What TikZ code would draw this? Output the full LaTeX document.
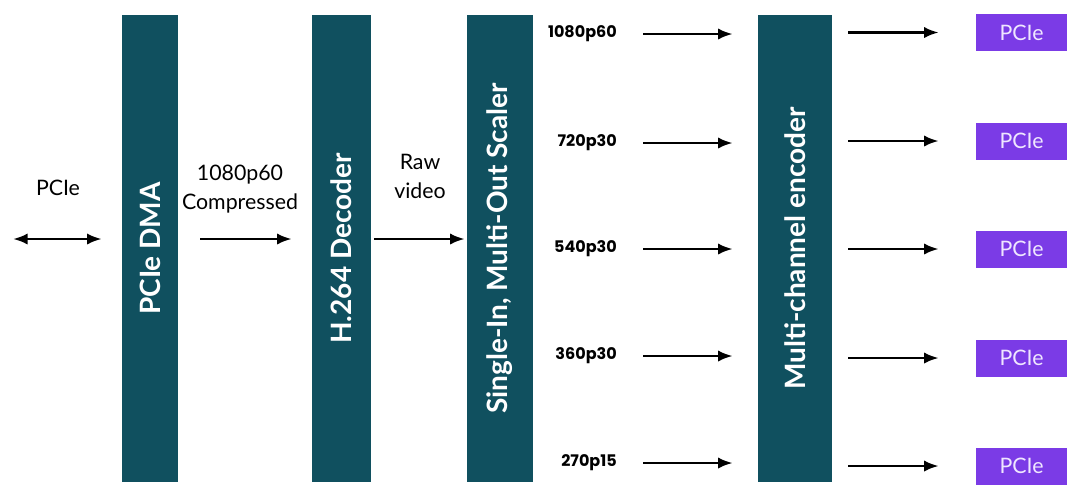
\documentclass[tikz,border=0pt]{standalone}
\usepackage{fontspec}
\setmainfont{Lato}
\newfontfamily\resfont{Poppins}
\usetikzlibrary{arrows.meta}
\definecolor{barteal}{HTML}{10505F}
\definecolor{pciepurple}{HTML}{7B3BE6}
\definecolor{lavender}{HTML}{EFE6FF}

\tikzset{
  bar/.style={fill=barteal, text=white, inner sep=0pt, minimum height=350.25pt,
    font=\fontsize{21}{25}\selectfont\bfseries},
  lbl/.style={font=\fontsize{16}{21.75}\selectfont, align=center},
  res/.style={font=\resfont\bfseries\fontsize{12}{14}\selectfont, anchor=east, inner sep=0pt},
  outbox/.style={fill=pciepurple, text=lavender, minimum width=68.25pt, minimum height=27.75pt,
    font=\fontsize{16}{19}\selectfont},
  arr/.style={line width=2pt}
}

\begin{document}
\begin{tikzpicture}[x=0.75pt,y=-0.75pt,>={Latex[length=11pt,width=8.5pt]}]
    \useasboundingbox (0,0) rectangle (1080,497);

    % processing blocks
    \node[bar,minimum width=42pt] (dma) at (150,248.5) {\rotatebox{90}{PCIe DMA}};
    \node[bar,minimum width=44.25pt] (dec) at (341.5,248.5) {\rotatebox{90}{H.264 Decoder}};
    \node[bar,minimum width=49.5pt] (scl) at (500,248.5) {\rotatebox{90}{Single-In, Multi-Out Scaler}};
    \node[bar,minimum width=55.5pt] (enc) at (795,248.5) {\rotatebox{90}{Multi-channel encoder}};

    % host link and decode path
    \coordinate (host) at (13,239);
    \node[lbl] (hostlbl) at (58,188) {PCIe};
    \draw[arr,<->,shorten >=15pt] (host) -- (host -| dma.west);
    \node[lbl] (cmplbl) at (240,189) {1080p60\\Compressed};
    \draw[arr,->,shorten <=16.5pt,shorten >=15pt] (dma.east |- host) -- (dec.west |- host);
    \node[lbl] (rawlbl) at (420,176) {Raw\\video};
    \draw[arr,->,shorten <=2pt,shorten >=1.5pt] (dec.east |- host) -- (scl.west |- host);

    % scaler outputs into the encoder, encoder outputs to PCIe
    \foreach \i/\y/\yb/\r in {1/34/32.5/1080p60, 2/143/141/720p30, 3/249/249/540p30,
                              4/356/358/360p30, 5/463/466/270p15} {
      \node[res] (res\i) at (617,\y) {\r};
      \draw[arr,->,shorten <=19.5pt,shorten >=18.75pt] (res\i.east) -- (res\i.east -| enc.west);
      \node[outbox] (pcie\i) at (1021.5,\yb) {PCIe};
      \draw[arr,->,shorten <=12pt,shorten >=27.75pt] (enc.east |- pcie\i) -- (pcie\i.west);
    }
\end{tikzpicture}
\end{document}
